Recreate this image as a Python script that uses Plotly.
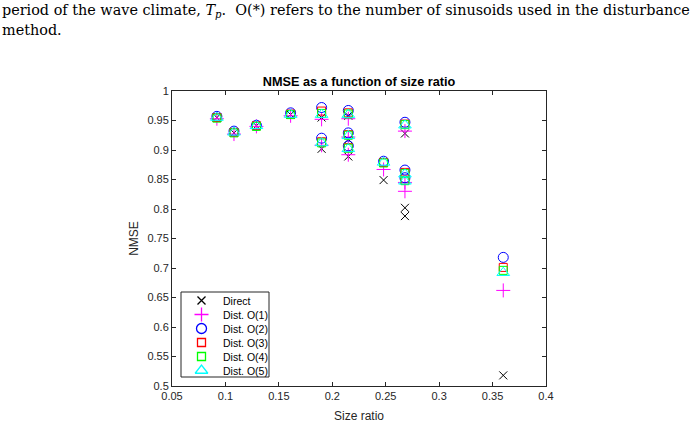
import plotly.graph_objects as go

size_ratio = [0.092, 0.108, 0.129, 0.161, 0.19, 0.19, 0.215, 0.215, 0.215,
              0.248, 0.268, 0.268, 0.268, 0.36]
direct = [0.955, 0.929, 0.941, 0.960, 0.955, 0.902, 0.958, 0.918, 0.889,
          0.849, 0.928, 0.802, 0.788, 0.518]
dist1 = [0.953, 0.927, 0.940, 0.958, 0.952, 0.908, 0.953, 0.922, 0.892,
         0.867, 0.932, 0.845, 0.830, 0.662]
dist2 = [0.957, 0.932, 0.942, 0.963, 0.972, 0.920, 0.967, 0.929, 0.907,
         0.881, 0.947, 0.866, 0.853, 0.718]
dist3 = [0.955, 0.930, 0.941, 0.961, 0.966, 0.914, 0.963, 0.926, 0.904,
         0.879, 0.944, 0.862, 0.849, 0.701]
dist4 = [0.954, 0.929, 0.940, 0.960, 0.962, 0.912, 0.961, 0.925, 0.903,
         0.878, 0.943, 0.860, 0.848, 0.696]
dist5 = [0.955, 0.930, 0.941, 0.960, 0.960, 0.912, 0.960, 0.924, 0.902,
         0.879, 0.942, 0.859, 0.847, 0.692]

x_ticks = [0.05, 0.1, 0.15, 0.2, 0.25, 0.3, 0.35, 0.4]
x_ticklabels = ["0.05", "0.1", "0.15", "0.2", "0.25", "0.3", "0.35", "0.4"]
y_ticks = [0.5, 0.55, 0.6, 0.65, 0.7, 0.75, 0.8, 0.85, 0.9, 0.95, 1.0]
y_ticklabels = ["0.5", "0.55", "0.6", "0.65", "0.7", "0.75", "0.8", "0.85",
                "0.9", "0.95", "1"]

series = [
    ("Direct", direct, "x-thin-open", "#000000", 8),
    ("Dist. O(1)", dist1, "cross-thin-open", "#ff00ff", 10),
    ("Dist. O(2)", dist2, "circle-open", "#0000ff", 10),
    ("Dist. O(3)", dist3, "square-open", "#ff0000", 8),
    ("Dist. O(4)", dist4, "square-open", "#00ff00", 8),
    ("Dist. O(5)", dist5, "triangle-up-open", "#00ffff", 11),
]

# plot-area pixel geometry
L, R, T, B = 172, 546, 91, 386
PW, PH = R - L, B - T

fig = go.Figure()
for name, vals, sym, col, sz in series:
    fig.add_trace(go.Scatter(
        x=size_ratio, y=vals, mode="markers", name=name, showlegend=False,
        marker=dict(symbol=sym, size=sz, color=col,
                    line=dict(color=col, width=1)),
    ))

# hand-drawn MATLAB-style legend (compact rows)
def px_x(px):
    return (px - L) / PW

def px_y(py):
    return (B - py) / PH

leg_box = dict(x0=px_x(181), x1=px_x(269), y0=px_y(377), y1=px_y(292))
fig.add_shape(type="rect", xref="paper", yref="paper", layer="below",
              line=dict(color="#262626", width=1), fillcolor="white", **leg_box)
row0, row_step = 300.5, 14
for i, (name, vals, sym, col, sz) in enumerate(series):
    ry = px_y(row0 + i * row_step)
    fig.add_trace(go.Scatter(
        x=[px_x(201.5)], y=[ry], xaxis="x2", yaxis="y2", mode="markers",
        showlegend=False, hoverinfo="skip",
        marker=dict(symbol=sym, size=sz, color=col,
                    line=dict(color=col, width=1.3)),
    ))
    fig.add_annotation(text=name, xref="paper", yref="paper", x=px_x(221), y=ry,
                       xanchor="left", yanchor="middle", showarrow=False,
                       font=dict(size=10.5, color="#000000"))

axis_col = "#262626"
fig.update_layout(
    width=700, height=426,
    paper_bgcolor="white", plot_bgcolor="white",
    margin=dict(l=L, r=700 - R, t=T, b=426 - B, autoexpand=False),
    font=dict(family="Liberation Sans, Arial, sans-serif", size=11, color=axis_col),
    title=dict(text="<b>NMSE as a function of size ratio</b>",
               x=(L + R) / 2 / 700, xanchor="center",
               y=1 - 82 / 426, yanchor="middle",
               font=dict(size=12.7, color="#000000")),
    showlegend=False,
    xaxis=dict(range=[0.05, 0.4], tickvals=x_ticks, ticktext=x_ticklabels,
               showgrid=False, zeroline=False, showline=True, linecolor=axis_col,
               linewidth=1, mirror="allticks", ticks="inside", ticklen=4,
               tickcolor=axis_col, tickfont=dict(size=11), automargin=False,
               title=dict(text="Size ratio", font=dict(size=12, color=axis_col),
                          standoff=10)),
    yaxis=dict(range=[0.5, 1.0], tickvals=y_ticks, ticktext=y_ticklabels,
               showgrid=False, zeroline=False, showline=True, linecolor=axis_col,
               linewidth=1, mirror="allticks", ticks="inside", ticklen=4,
               tickcolor=axis_col, tickfont=dict(size=11), automargin=False,
               title=dict(text="NMSE", font=dict(size=12, color=axis_col),
                          standoff=6)),
    xaxis2=dict(range=[0, 1], overlaying="x", visible=False, fixedrange=True),
    yaxis2=dict(range=[0, 1], overlaying="y", visible=False, fixedrange=True),
)

serif = "DejaVu Serif, Liberation Serif, serif"
fig.add_annotation(
    text="period of the wave climate, <i>T</i><sub><i>p</i></sub>.  O(*) refers to the number of sinusoids used in the disturbance",
    xref="paper", yref="paper", x=-L / PW, y=1 + (T - 11) / PH,
    xanchor="left", yanchor="middle", showarrow=False,
    font=dict(family=serif, size=14.4, color="#000000"))
fig.add_annotation(
    text="method.",
    xref="paper", yref="paper", x=-L / PW, y=1 + (T - 30) / PH,
    xanchor="left", yanchor="middle", showarrow=False,
    font=dict(family=serif, size=14.4, color="#000000"))

fig.write_html("out.html")
